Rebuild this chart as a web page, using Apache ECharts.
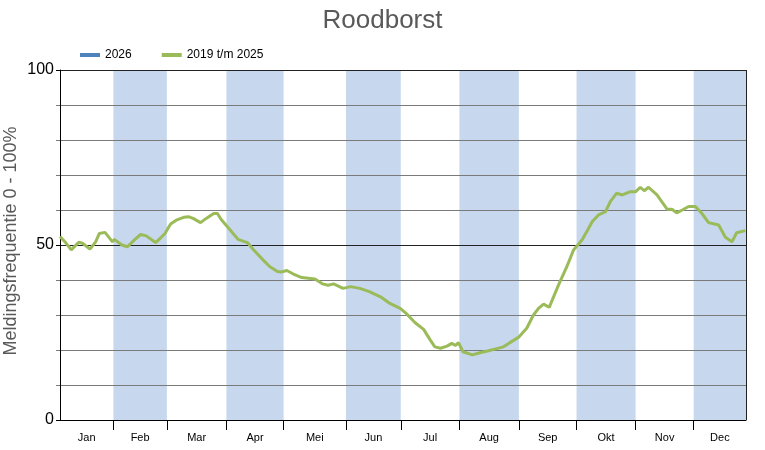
<!DOCTYPE html>
<html><head><meta charset="utf-8">
<script src="https://cdn.jsdelivr.net/npm/echarts@6/dist/echarts.min.js"></script>
<style>html,body{margin:0;padding:0;background:#fff}#c{width:765px;height:450px}</style>
</head><body><div id="c"></div>
<script>
var months = ['Jan','Feb','Mar','Apr','Mei','Jun','Jul','Aug','Sep','Okt','Nov','Dec'];
var monthStart = [0,28.5,57,88.8,119.3,152.6,181.8,213.1,244.8,275.6,307.1,338.1];
var yearEnd = 366;
var days = [0,3,6,10,12,16,19,21,24,28,29,33,36,37,40,43,46,51,54,56,59,62,66,68.5,71,75,78,82,84,86,90,95,100,103,108,112,116,118,121,124.5,129,132.5,136,140,143,146,151,155,160,165,171,176,181.5,185,189.5,194,197.5,200,203,206.5,209,211,212.6,215,220,224,228.6,233,236.6,240,244.6,249,252.6,255.3,258,261,266,270.4,274,278.5,281,284,287.3,291,293.6,297,300,304,307,309.6,311.7,314,318.5,324,326.5,329,332,335.4,339,342.5,346,351.4,355,358.5,361,365.6];
var values2019_2025 = [52.4,50.7,48.6,50.8,50.5,48.8,50.9,53.3,53.6,50.9,51.6,50,49.5,49.7,51.6,53,52.6,50.7,52.2,53.3,56,57.1,57.9,58.1,57.6,56.4,57.6,59,59,57.3,54.8,51.6,50.7,48.8,45.9,43.8,42.4,42.3,42.7,41.7,40.7,40.5,40.3,38.9,38.5,38.9,37.6,38.1,37.6,36.7,35.2,33.3,31.9,30.3,27.8,25.9,22.9,20.9,20.5,21.1,21.9,21.3,22.1,19.5,18.6,19.2,19.8,20.4,20.9,22.1,23.6,26.2,30,31.9,33.1,32.2,38.6,43.8,48.6,51.4,53.8,56.7,58.6,59.5,62.4,64.8,64.3,65.2,65.2,66.5,65.5,66.5,64.3,60.2,60.2,59.2,60,61,61,59,56.4,55.7,52.2,50.9,53.5,54.1];
var values2026 = [];
var yLabels = [0,50,100];

var greenData = days.map(function(d,i){return [d, values2019_2025[i]];});
var bands = [];
for (var i = 1; i < 12; i += 2) {
  bands.push([{xAxis: monthStart[i]}, {xAxis: i+1 < 12 ? monthStart[i+1] : yearEnd}]);
}
var mids = monthStart.map(function(s,i){ var e = i+1<12?monthStart[i+1]:yearEnd; return (s+e)/2; });
var boundaries = monthStart.slice(1);

var chart = echarts.init(document.getElementById('c'));
chart.setOption({
  animation: false,
  title: {text: 'Roodborst', left: 'center', top: 3, textStyle: {fontFamily: 'Liberation Sans', fontSize: 26, fontWeight: 'normal', color: '#595959'}},
  legend: {left: 75, top: 44, itemWidth: 20, itemHeight: 4, itemGap: 30, icon: 'rect',
    textStyle: {fontFamily: 'Liberation Sans', fontSize: 12, color: '#000'},
    data: ['2026','2019 t/m 2025']},
  grid: {left: 60, right: 19, top: 70, bottom: 30, containLabel: false, outerBoundsMode: 'none'},
  xAxis: {type: 'value', min: 0, max: yearEnd, z: 2,
    axisLine: {show: true, lineStyle: {color: '#000', width: 1}},
    axisTick: {show: true, length: 10, customValues: boundaries, lineStyle: {color: '#000'}},
    axisLabel: {customValues: mids, margin: 12, fontFamily: 'Liberation Sans', fontSize: 11, color: '#000',
      formatter: function(v){ for (var i=0;i<mids.length;i++){ if (Math.abs(mids[i]-v)<0.5) return months[i]; } return ''; }},
    splitLine: {show: false}},
  yAxis: [{type: 'value', min: 0, max: 100, interval: 10, z: 2,
    name: 'Meldingsfrequentie 0 - 100%', nameLocation: 'middle', nameGap: 40,
    nameTextStyle: {fontFamily: 'Liberation Sans', fontSize: 18, color: '#595959', padding: [0,0,0,8]},
    axisLine: {show: true, lineStyle: {color: '#000'}},
    axisTick: {show: true, length: 4, lineStyle: {color: '#7a7a7a'}},
    axisLabel: {show: false},
    splitLine: {show: true, lineStyle: {color: ['#222','#7a7a7a','#7a7a7a','#7a7a7a','#7a7a7a'], width: 1}}},
    {type: 'value', min: 0, max: 100, position: 'left', offset: 0, z: 2,
    axisLine: {show: false},
    axisTick: {show: true, length: 4, customValues: yLabels, lineStyle: {color: '#000'}},
    axisLabel: {customValues: yLabels, margin: 6, fontFamily: 'Liberation Sans', fontSize: 16, color: '#000'},
    splitLine: {show: false}}],
  series: [
    {name: 'bands', type: 'line', data: [], z: 0, silent: true,
      markArea: {silent: true, z: 0, itemStyle: {color: '#c6d7ee'}, data: bands}},
    {name: '2026', type: 'line', data: values2026, showSymbol: false, z: 3,
      itemStyle: {color: '#4f81bd'}, lineStyle: {color: '#4f81bd', width: 3}},
    {name: '2019 t/m 2025', type: 'line', data: greenData, showSymbol: false, z: 4,
      itemStyle: {color: '#9bbb59'}, lineStyle: {color: '#9bbb59', width: 3},
      markLine: {silent: true, symbol: 'none', label: {show: false}, lineStyle: {color: '#222', width: 1, type: 'solid'},
        data: [{xAxis: yearEnd}]}}
  ]
});
</script></body></html>
